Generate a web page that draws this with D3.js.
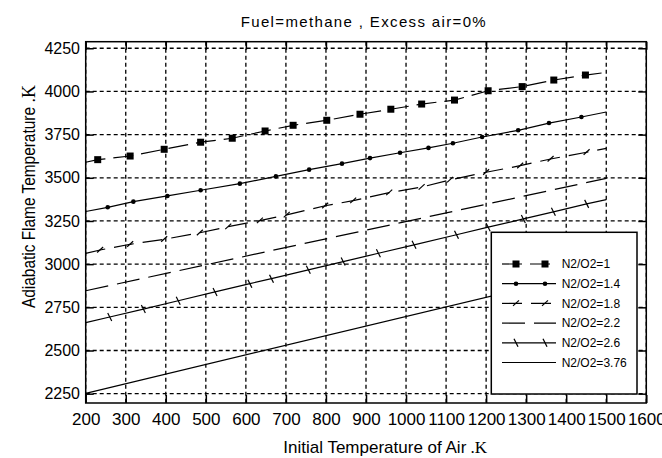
<!DOCTYPE html>
<html>
<head>
<meta charset="utf-8">
<script src="https://cdn.jsdelivr.net/npm/d3@7"></script>
<style>
  body { margin: 0; background: #fff; }
  text { font-family: "Liberation Sans", Arial, sans-serif; fill: #000; }
</style>
</head>
<body>
<div id="chart"></div>
<script>
const margin = {top: 41.7, right: 15.7, bottom: 55, left: 85.7},
    width = 662 - margin.left - margin.right,
    height = 458 - margin.top - margin.bottom;

// tick labels
const xTickVals = [200, 300, 400, 500, 600, 700, 800, 900, 1000, 1100, 1200, 1300, 1400, 1500, 1600];
const yTickVals = [2250, 2500, 2750, 3000, 3250, 3500, 3750, 4000, 4250];

const seriesNames = ["N2/O2=1", "N2/O2=1.4", "N2/O2=1.8", "N2/O2=2.2", "N2/O2=2.6", "N2/O2=3.76"];

// initial air temperature (K) and adiabatic flame temperature (K)
const airT1 = [200, 230, 311, 396, 487, 566, 648, 718, 802, 885, 962, 1039, 1121, 1205, 1290, 1369, 1448, 1500];
const flameT1 = [3590, 3605, 3626, 3665, 3706, 3729, 3771, 3804, 3833, 3868, 3897, 3927, 3950, 4004, 4028, 4066, 4095, 4110];

const airT2 = [200, 255, 319, 404, 487, 585, 675, 758, 840, 910, 985, 1056, 1117, 1190, 1280, 1357, 1438, 1500];
const flameT2 = [3305, 3329, 3362, 3395, 3428, 3466, 3508, 3547, 3582, 3614, 3645, 3673, 3700, 3736, 3775, 3817, 3852, 3881];

const airT3 = [200, 236, 311, 396, 485, 556, 635, 702, 798, 868, 958, 1039, 1110, 1200, 1285, 1361, 1451, 1500];
const flameT3 = [3062, 3082, 3115, 3144, 3182, 3217, 3252, 3285, 3338, 3368, 3414, 3446, 3488, 3532, 3570, 3609, 3648, 3670];

const airT4 = [200, 1500];
const flameT4 = [2846, 3497];

const airT5 = [200, 260, 344, 431, 523, 610, 664, 756, 843, 931, 1020, 1126, 1205, 1293, 1368, 1451, 1500];
const flameT5 = [2661, 2694, 2740, 2788, 2839, 2887, 2916, 2967, 3015, 3063, 3112, 3170, 3214, 3262, 3303, 3349, 3374];

const airT6 = [200, 1500];
const flameT6 = [2252, 2975];

const series = [
  {name: seriesNames[0], pts: d3.zip(airT1, flameT1), dash: "20,8", marker: "square"},
  {name: seriesNames[1], pts: d3.zip(airT2, flameT2), dash: null, marker: "dot"},
  {name: seriesNames[2], pts: d3.zip(airT3, flameT3), dash: "20,9", marker: "slash"},
  {name: seriesNames[3], pts: d3.zip(airT4, flameT4), dash: "23,9", marker: null},
  {name: seriesNames[4], pts: d3.zip(airT5, flameT5), dash: null, marker: "back"},
  {name: seriesNames[5], pts: d3.zip(airT6, flameT6), dash: null, marker: null}
];

const root = d3.select("#chart")
  .append("svg")
    .attr("width", 662)
    .attr("height", 458);

const svg = root.append("g")
    .attr("transform", "translate(" + margin.left + "," + margin.top + ")");

const x = d3.scaleLinear()
  .domain([200, 1600])
  .range([0, width]);

const y = d3.scaleLinear()
  .domain([2196, 4288])
  .range([height, 0]);

// dashed grid
svg.append("g")
  .selectAll("line")
  .data(xTickVals)
  .enter()
  .append("line")
    .attr("x1", d => x(d)).attr("x2", d => x(d))
    .attr("y1", 0).attr("y2", height)
    .attr("stroke", "#000").attr("stroke-width", 1.3)
    .attr("stroke-dasharray", "4,3");

svg.append("g")
  .selectAll("line")
  .data(yTickVals)
  .enter()
  .append("line")
    .attr("y1", d => y(d)).attr("y2", d => y(d))
    .attr("x1", 0).attr("x2", width)
    .attr("stroke", "#000").attr("stroke-width", 1.3)
    .attr("stroke-dasharray", "4,3");

// axes with inward ticks on all four sides
const xAxis = svg.append("g")
  .attr("transform", "translate(0," + height + ")")
  .call(d3.axisBottom(x).tickValues(xTickVals).tickSize(-8).tickPadding(10).tickFormat(d3.format("d")));
xAxis.selectAll("text").style("font-size", "17px");

const yAxis = svg.append("g")
  .call(d3.axisLeft(y).tickValues(yTickVals).tickSize(-8).tickPadding(5.7).tickFormat(d3.format("d")));
yAxis.selectAll("text").style("font-size", "16px");

svg.append("g")
  .call(d3.axisTop(x).tickValues(xTickVals).tickSize(-8).tickFormat(""));
svg.append("g")
  .attr("transform", "translate(" + width + ",0)")
  .call(d3.axisRight(y).tickValues(yTickVals).tickSize(-8).tickFormat(""));

svg.selectAll(".domain").remove();
svg.selectAll(".tick line").attr("stroke", "#000").attr("stroke-width", 1.5);

// marker glyphs
function drawMarker(g, type, cx, cy) {
  if (type === "square") {
    g.append("rect").attr("x", cx - 3.5).attr("y", cy - 3.5).attr("width", 7).attr("height", 7).attr("fill", "#000");
  } else if (type === "dot") {
    g.append("circle").attr("cx", cx).attr("cy", cy).attr("r", 2.3).attr("fill", "#000");
  } else if (type === "slash") {
    g.append("path").attr("d", "M" + (cx - 3) + "," + (cy + 2.5) + "L" + (cx + 3) + "," + (cy - 3))
      .attr("stroke", "#000").attr("stroke-width", 1.2).attr("fill", "none");
  } else if (type === "back") {
    g.append("path").attr("d", "M" + (cx - 2) + "," + (cy - 4) + "L" + (cx + 2) + "," + (cy + 4))
      .attr("stroke", "#000").attr("stroke-width", 1.2).attr("fill", "none");
  }
}

const line = d3.line()
  .x(d => x(d[0]))
  .y(d => y(d[1]));

const lines = svg.append("g");
series.forEach(s => {
  lines.append("path")
    .datum(s.pts)
    .attr("d", line)
    .attr("fill", "none")
    .attr("stroke", "#000")
    .attr("stroke-width", 1.2)
    .attr("stroke-dasharray", s.dash);
  if (s.marker) {
    s.pts.slice(1, -1).forEach(p => drawMarker(lines, s.marker, x(p[0]), y(p[1])));
  }
});

// frame
svg.append("rect")
  .attr("width", width).attr("height", height)
  .attr("fill", "none").attr("stroke", "#000").attr("stroke-width", 1.5);

// legend
const legend = root.append("g");
legend.append("rect")
  .attr("x", 491.3).attr("y", 232.3).attr("width", 145.7).attr("height", 161.7)
  .attr("fill", "#fff").attr("stroke", "#000").attr("stroke-width", 1.5);

series.forEach((s, i) => {
  const ly = 264 + i * 19.7;
  legend.append("line")
    .attr("x1", 502).attr("x2", 556).attr("y1", ly).attr("y2", ly)
    .attr("stroke", "#000").attr("stroke-width", 1.2)
    .attr("stroke-dasharray", s.dash);
  if (s.marker) {
    drawMarker(legend, s.marker, 516, ly);
    drawMarker(legend, s.marker, 545, ly);
  }
  legend.append("text")
    .attr("x", 561.7).attr("y", ly + 4.3)
    .style("font-size", "12px")
    .text(s.name);
});

// titles
root.append("text")
  .attr("x", 240.7).attr("y", 26.7)
  .attr("textLength", 245).attr("lengthAdjust", "spacing")
  .style("font-size", "15px")
  .text("Fuel=methane , Excess air=0%");

const xl = root.append("text")
  .attr("x", 283.3).attr("y", 452.5)
  .style("font-size", "17px");
xl.append("tspan").text("Initial Temperature of Air");
xl.append("tspan").style("font-family", "'Liberation Serif', serif").text(" .K");

const yl = root.append("text")
  .attr("transform", "translate(35,308) rotate(-90)")
  .style("font-size", "18px");
yl.append("tspan").attr("textLength", 201).attr("lengthAdjust", "spacingAndGlyphs").text("Adiabatic Flame Temperature");
yl.append("tspan").style("font-family", "'Liberation Serif', serif").text(" .K");
</script>
</body>
</html>
